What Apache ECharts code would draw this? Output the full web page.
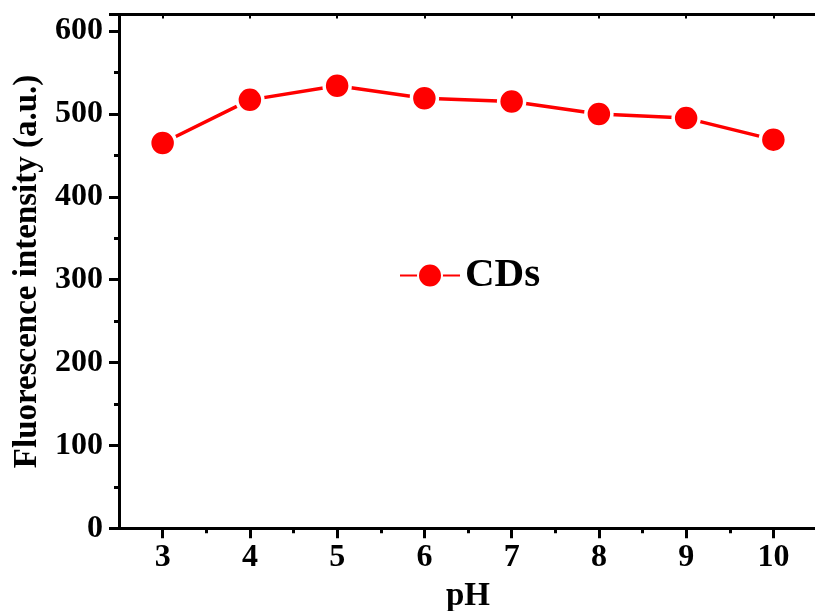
<!DOCTYPE html>
<html>
<head>
<meta charset="utf-8">
<script src="https://cdn.jsdelivr.net/npm/echarts@6/dist/echarts.min.js"></script>
<style>
  html, body { margin: 0; padding: 0; background: #fff; }
  #chart { width: 815px; height: 611px; }
</style>
</head>
<body>
<div id="chart"></div>
<script>
var phValues = [3, 4, 5, 6, 7, 8, 9, 10];
var intensity = [465, 517, 534, 519, 515, 500, 495, 469];
var seriesName = 'CDs';
var xMajorTicks = [3, 4, 5, 6, 7, 8, 9, 10];
var xMinorTicks = [3.5, 4.5, 5.5, 6.5, 7.5, 8.5, 9.5];

var points = [];
for (var i = 0; i < phValues.length; i++) {
    points.push([phValues[i], intensity[i]]);
}

var font = '"Liberation Serif", "Times New Roman", serif';
var myChart;

document.addEventListener("DOMContentLoaded", function() {
    myChart = echarts.init(document.getElementById('chart'));
    var option = {
        animation: false,
        backgroundColor: '#fff',
        grid: { left: 119, right: -2, top: 14.5, bottom: 82.7, containLabel: false, outerBoundsMode: 'none' },
        legend: {
            data: [seriesName],
            left: 394,
            top: 250,
            itemWidth: 60,
            itemHeight: 30,
            itemGap: 7,
            textStyle: { fontFamily: font, fontWeight: 'bold', fontSize: 41, color: '#000' }
        },
        xAxis: [{
            type: 'value',
            min: 2.5,
            max: 10.5,
            name: 'pH',
            nameLocation: 'middle',
            nameGap: 52,
            nameTextStyle: { fontFamily: font, fontWeight: 'bold', fontSize: 33, color: '#000' },
            axisLine: { onZero: false, lineStyle: { color: '#000', width: 3 } },
            axisTick: { customValues: xMajorTicks, length: 10, lineStyle: { width: 3 } },
            splitLine: { show: false },
            axisLabel: {
                customValues: xMajorTicks,
                margin: 13,
                fontFamily: font, fontWeight: 'bold', fontSize: 32, color: '#000'
            }
        }, {
            type: 'value',
            min: 2.5,
            max: 10.5,
            position: 'bottom',
            axisLine: { show: false },
            axisTick: { customValues: xMinorTicks, length: 5, lineStyle: { color: '#000', width: 3 } },
            axisLabel: { show: false },
            splitLine: { show: false }
        }, {
            type: 'value',
            position: 'top',
            min: 2.5,
            max: 10.5,
            axisLine: { onZero: false, lineStyle: { color: '#000', width: 3 } },
            axisTick: { customValues: xMajorTicks, inside: true, length: 4, lineStyle: { width: 2 } },
            axisLabel: { show: false },
            splitLine: { show: false }
        }],
        yAxis: {
            type: 'value',
            min: 0,
            max: 620,
            interval: 100,
            name: 'Fluorescence intensity (a.u.)',
            nameLocation: 'middle',
            nameGap: 74,
            nameTextStyle: { fontFamily: font, fontWeight: 'bold', fontSize: 33, color: '#000' },
            axisLine: { show: true, lineStyle: { color: '#000', width: 3 } },
            axisTick: { length: 10, lineStyle: { width: 3 } },
            minorTick: { show: true, splitNumber: 2, length: 5, lineStyle: { color: '#000', width: 3 } },
            splitLine: { show: false },
            axisLabel: {
                margin: 16,
                fontFamily: font, fontWeight: 'bold', fontSize: 32, color: '#000',
                showMaxLabel: false
            }
        },
        series: [{
            name: seriesName,
            type: 'line',
            data: points,
            symbol: 'circle',
            symbolSize: 26,
            lineStyle: { color: '#ff0000', width: 3.5 },
            itemStyle: { color: '#ff0000', borderColor: '#fff', borderWidth: 3.5 }
        }]
    };
    myChart.setOption(option);
});
</script>
</body>
</html>
